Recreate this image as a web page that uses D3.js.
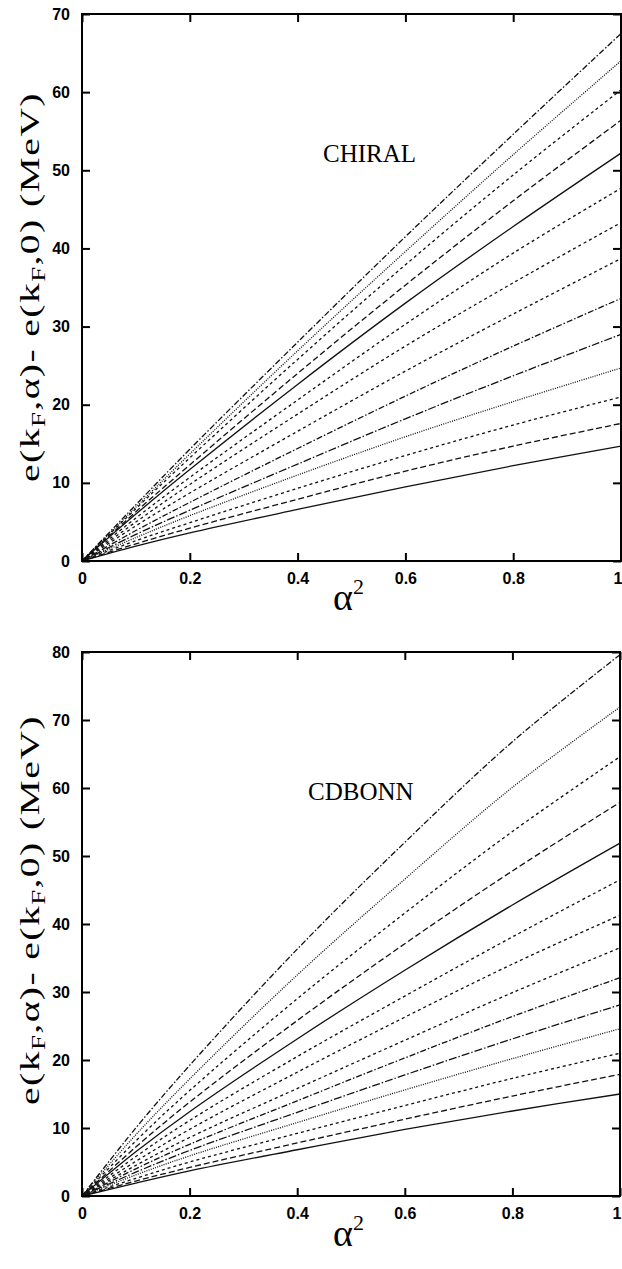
<!DOCTYPE html>
<html>
<head>
<meta charset="utf-8">
<script src="https://cdn.jsdelivr.net/npm/d3@7"></script>
<style>
  html, body { margin: 0; padding: 0; background: #fff; }
  svg { display: block; }
  .tick text { font-family: "Liberation Sans", Arial, sans-serif; font-weight: bold; font-size: 16px; fill: #000; }
  .tick line { stroke: #000; stroke-width: 2; }
</style>
</head>
<body>
<svg id="fig" width="622" height="1269"></svg>
<script>
// Symmetry energy e(kF,α) - e(kF,0) versus α², one curve per Fermi momentum
const alpha2 = [0, 0.1, 0.2, 0.4, 0.6, 0.8, 1.0];

// CHIRAL potential, curves listed from the top one down
const chiral = [
  [0, 7.2, 14.3, 28.0, 41.5, 54.6, 67.5],
  [0, 6.9, 13.7, 26.9, 39.6, 52.0, 64.0],
  [0, 6.7, 13.2, 25.8, 37.9, 49.4, 60.3],
  [0, 6.3, 12.3, 24.0, 35.3, 46.1, 56.4],
  [0, 6.0, 11.7, 22.6, 33.0, 42.8, 52.2],
  [0, 5.5, 10.7, 20.6, 30.3, 39.4, 47.7],
  [0, 5.0, 9.8, 18.8, 27.5, 35.6, 43.3],
  [0, 4.5, 8.7, 16.6, 24.3, 31.6, 38.7],
  [0, 3.9, 7.5, 14.4, 21.1, 27.5, 33.6],
  [0, 3.4, 6.5, 12.4, 18.2, 23.7, 29.0],
  [0, 3.0, 5.8, 11.0, 15.9, 20.4, 24.7],
  [0, 2.6, 4.9, 9.3, 13.5, 17.4, 21.0],
  [0, 2.2, 4.2, 7.9, 11.5, 14.7, 17.6],
  [0, 1.9, 3.6, 6.6, 9.5, 12.2, 14.7]
];

// CD-Bonn potential, same ordering
const cdbonn = [
  [0, 10.0, 19.2, 36.3, 52.0, 66.8, 79.6],
  [0, 9.0, 17.2, 32.5, 46.6, 60.1, 71.9],
  [0, 8.1, 15.5, 29.0, 41.6, 53.6, 64.6],
  [0, 7.2, 13.8, 25.8, 37.1, 47.8, 57.9],
  [0, 6.5, 12.4, 23.1, 33.2, 42.8, 51.9],
  [0, 5.8, 11.1, 20.5, 29.4, 38.1, 46.5],
  [0, 5.1, 9.8, 18.2, 26.3, 34.1, 41.3],
  [0, 4.5, 8.6, 15.8, 22.9, 29.9, 36.5],
  [0, 4.0, 7.6, 14.0, 20.3, 26.4, 32.1],
  [0, 3.5, 6.7, 12.3, 17.8, 23.1, 28.1],
  [0, 3.1, 5.9, 10.8, 15.6, 20.2, 24.6],
  [0, 2.6, 5.0, 9.2, 13.3, 17.3, 21.0],
  [0, 2.2, 4.2, 7.8, 11.3, 14.7, 17.9],
  [0, 1.9, 3.7, 6.8, 9.8, 12.5, 15.0]
];

const xTicks = [0, 0.2, 0.4, 0.6, 0.8, 1];
const chiralYTicks = [0, 10, 20, 30, 40, 50, 60, 70];
const cdbonnYTicks = [0, 10, 20, 30, 40, 50, 60, 70, 80];

// dash pattern per curve (null = solid)
const dashes = [
  "6,2,1.5,2", "1,1.3", "3,3", "6,3", null,
  "3,3", "3,3", "3,3", "6,2,1.5,2", "8,2,1.5,2",
  "1,1.3", "3,3", "6,3", null
];

const serif = "'Liberation Serif', 'Times New Roman', serif";
const svg = d3.select("#fig");

function panel(opts) {
  const { data, yMax, yTicks, left, right, top, bottom, name, nameX, nameY, titleY, alphaY } = opts;
  const x = d3.scaleLinear().domain([0, 1]).range([left, right]);
  const y = d3.scaleLinear().domain([0, yMax]).range([bottom, top]);
  const g = svg.append("g");

  const xf = d => (d === 0 || d === 1) ? String(d) : d.toFixed(1);

  // bottom / left with labels, top / right mirrored without
  const xAxis = g.append("g").attr("transform", `translate(0,${bottom})`)
    .call(d3.axisBottom(x).tickValues(xTicks).tickSize(-8).tickPadding(12).tickFormat(xf));
  // the label at α² = 1 sits flush against the right border
  xAxis.selectAll(".tick text").filter(d => d === 1)
    .attr("text-anchor", "end").attr("x", 1);
  g.append("g").attr("transform", `translate(0,${top})`)
    .call(d3.axisTop(x).tickValues(xTicks).tickSize(-8).tickFormat(""));
  g.append("g").attr("transform", `translate(${left},0)`)
    .call(d3.axisLeft(y).tickValues(yTicks).tickSize(-8).tickPadding(12).tickFormat(d3.format("d")));
  g.append("g").attr("transform", `translate(${right},0)`)
    .call(d3.axisRight(y).tickValues(yTicks).tickSize(-8).tickFormat(""));
  g.selectAll(".domain").remove();

  const line = d3.line()
    .x((d, i) => x(alpha2[i]))
    .y(d => y(d))
    .curve(d3.curveCatmullRom.alpha(0.5));

  g.append("g").selectAll("path")
    .data(data)
    .join("path")
    .attr("d", d => line(d))
    .attr("fill", "none")
    .attr("stroke", "#111")
    .attr("stroke-width", 1.3)
    .attr("stroke-dasharray", (d, i) => dashes[i]);

  // frame
  g.append("rect")
    .attr("x", left).attr("y", top)
    .attr("width", right - left).attr("height", bottom - top)
    .attr("fill", "none").attr("stroke", "#000").attr("stroke-width", 2);

  // model name
  g.append("text")
    .attr("x", nameX).attr("y", nameY)
    .attr("font-family", serif)
    .attr("font-size", 25)
    .text(name);

  // x title α²
  const xt = g.append("text")
    .attr("x", 333).attr("y", alphaY)
    .attr("font-family", serif)
    .attr("font-size", 38);
  xt.append("tspan").text("α");
  xt.append("tspan").attr("font-size", 22).attr("dy", -16).text("2");

  // y title with subscripts, widened to the axis length
  const yt = g.append("text")
    .attr("font-family", serif)
    .attr("font-size", 28)
    .attr("letter-spacing", 1)
    .attr("text-anchor", "middle");
  yt.append("tspan").text("e(k");
  yt.append("tspan").attr("font-size", 19).attr("dy", 6).text("F");
  yt.append("tspan").attr("dy", -6).text(",α)- e(k");
  yt.append("tspan").attr("font-size", 19).attr("dy", 6).text("F");
  yt.append("tspan").attr("dy", -6).text(",0) (MeV)");
  const w = yt.node().getComputedTextLength();
  const sx = 390 / w;
  yt.attr("transform", `translate(39,${titleY}) rotate(-90) scale(${sx},1)`);
}

panel({
  data: chiral, yMax: 70, yTicks: chiralYTicks,
  left: 82, right: 621, top: 14, bottom: 561,
  name: "CHIRAL", nameX: 323, nameY: 162, titleY: 287, alphaY: 610
});

panel({
  data: cdbonn, yMax: 80, yTicks: cdbonnYTicks,
  left: 82, right: 620, top: 652, bottom: 1196,
  name: "CDBONN", nameX: 308, nameY: 800, titleY: 910, alphaY: 1246
});
</script>
</body>
</html>
